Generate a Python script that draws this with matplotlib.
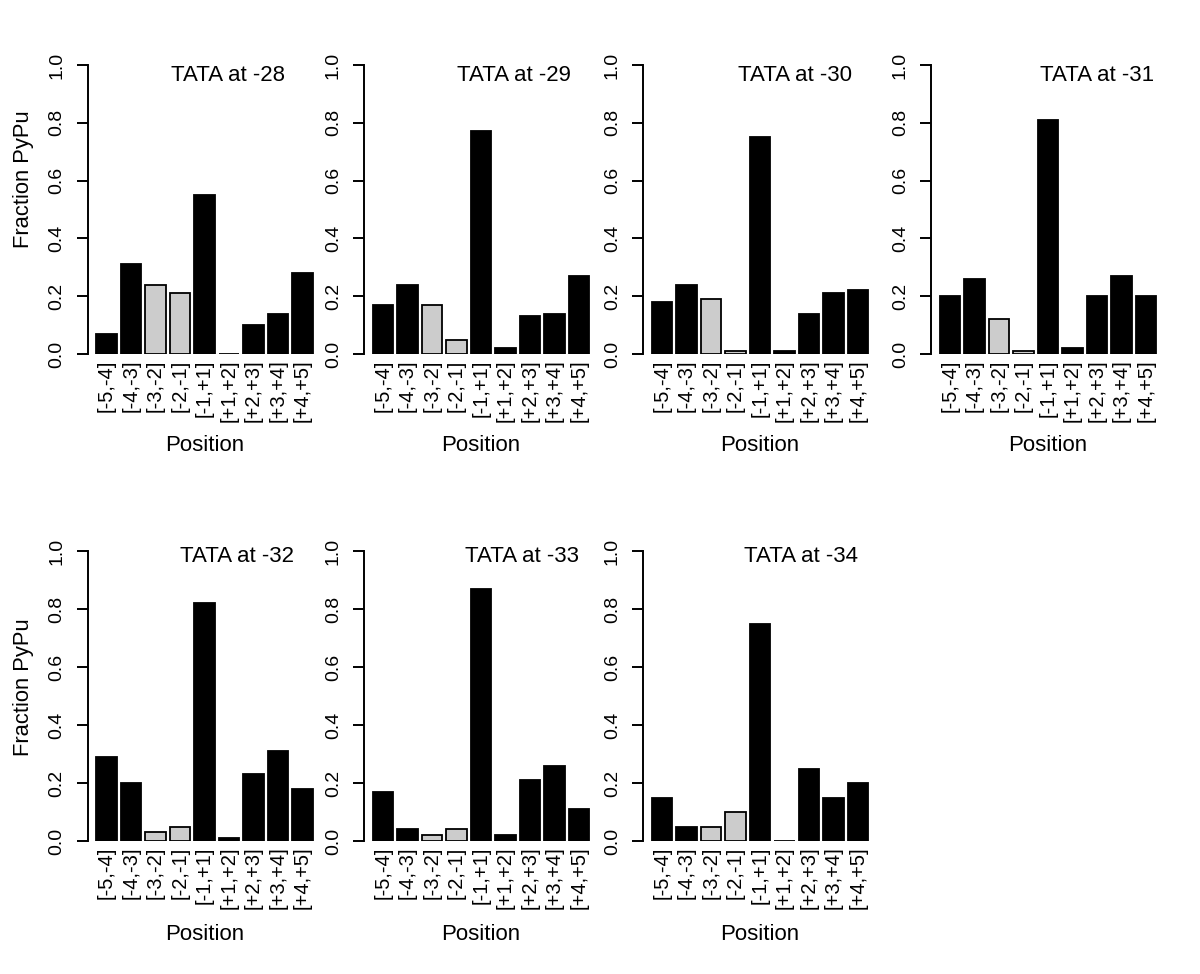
import matplotlib
matplotlib.use("Agg")
import matplotlib.pyplot as plt

plt.rcParams['font.family'] = ['Liberation Sans', 'DejaVu Sans']

categories = ["[-5,-4]", "[-4,-3]", "[-3,-2]", "[-2,-1]", "[-1,+1]",
              "[+1,+2]", "[+2,+3]", "[+3,+4]", "[+4,+5]"]
grey_categories = ["[-3,-2]", "[-2,-1]"]

titles = ["TATA at -28", "TATA at -29", "TATA at -30", "TATA at -31",
          "TATA at -32", "TATA at -33", "TATA at -34"]

tata_28 = [0.07, 0.31, 0.24, 0.21, 0.55, 0.00, 0.10, 0.14, 0.28]
tata_29 = [0.17, 0.24, 0.17, 0.05, 0.77, 0.02, 0.13, 0.14, 0.27]
tata_30 = [0.18, 0.24, 0.19, 0.01, 0.75, 0.01, 0.14, 0.21, 0.22]
tata_31 = [0.20, 0.26, 0.12, 0.01, 0.81, 0.02, 0.20, 0.27, 0.20]
tata_32 = [0.29, 0.20, 0.03, 0.05, 0.82, 0.01, 0.23, 0.31, 0.18]
tata_33 = [0.17, 0.04, 0.02, 0.04, 0.87, 0.02, 0.21, 0.26, 0.11]
tata_34 = [0.15, 0.05, 0.05, 0.10, 0.75, 0.00, 0.25, 0.15, 0.20]

series = [tata_28, tata_29, tata_30, tata_31, tata_32, tata_33, tata_34]
yticks = [0.0, 0.2, 0.4, 0.6, 0.8, 1.0]
ytick_labels = ["0.0", "0.2", "0.4", "0.6", "0.8", "1.0"]

W, H = 1200, 974
fig = plt.figure(figsize=(W / 100, H / 100), dpi=100)

# layout in pixels
lefts_px = [87.5, 364, 643, 931]
width_px = 234
rows = [(354, 53.4), (841, 539.4)]  # (y of 0-line, top y of axes)
title_pos = [(228, 75), (514, 75), (795, 75), (1097, 75),
             (237, 557), (522, 557), (801, 557)]
ylabel_pos = [(23, 179), (23, 687)]
xlabel_y = [445, 934]

centers = [0.7 + 1.2 * i for i in range(len(categories))]
colors = ["#cccccc" if c in grey_categories else "black" for c in categories]

for k, vals in enumerate(series):
    r, c = divmod(k, 4)
    bot_px, top_px = rows[r]
    ax = fig.add_axes([lefts_px[c] / W, 1 - bot_px / H, width_px / W,
                       (bot_px - top_px) / H])
    ax.bar(centers, vals, width=1.0, color=colors, edgecolor="black",
           linewidth=1.3)
    ax.set_xlim(-0.224, 11.224)
    ax.set_ylim(0, 1.04)
    for s in ["top", "right", "bottom"]:
        ax.spines[s].set_visible(False)
    ax.spines["left"].set_bounds(0, 1)
    ax.spines["left"].set_linewidth(1.4)
    ax.set_yticks(yticks)
    ax.set_yticklabels(ytick_labels, rotation=90, va="center", fontsize=14)
    ax.tick_params(axis="y", length=8, width=1.4, pad=8)
    ax.set_xticks(centers)
    ax.set_xticklabels(categories, rotation=90, fontsize=14.5)
    ax.tick_params(axis="x", length=0, pad=4)
    ax.patch.set_visible(False)

    tx, ty = title_pos[k]
    fig.text(tx / W, 1 - ty / H, titles[k], ha="center", va="center",
             fontsize=16)
    fig.text((lefts_px[c] + width_px / 2) / W, 1 - xlabel_y[r] / H,
             "Position", ha="center", va="center", fontsize=16)

for (x, y) in ylabel_pos:
    fig.text(x / W, 1 - y / H, "Fraction PyPu", rotation=90, ha="center",
             va="center", fontsize=15.8)

fig.savefig("out.png", dpi=100)
